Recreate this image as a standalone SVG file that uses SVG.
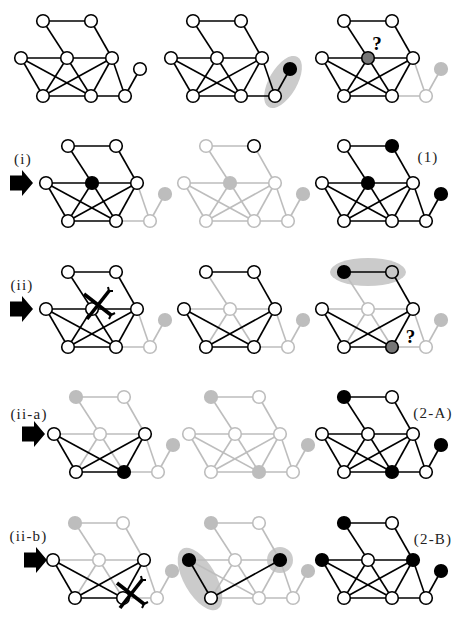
<svg xmlns="http://www.w3.org/2000/svg" xmlns:xlink="http://www.w3.org/1999/xlink" width="463" height="630" viewBox="0 0 463 630">
<style>
.k{stroke:#000;stroke-width:1.6;fill:none}
.g{stroke:#bdbdbd;stroke-width:1.6;fill:none}
.w{fill:#fff;stroke:#000;stroke-width:1.6}
.b{fill:#000;stroke:#000;stroke-width:1.6}
.gw{fill:#fff;stroke:#bdbdbd;stroke-width:1.6}
.gf{fill:#bdbdbd;stroke:#bdbdbd;stroke-width:1.6}
.dk{fill:#777;stroke:#000;stroke-width:1.6}
.lg{fill:#c8c8c8;stroke:#000;stroke-width:1.6}
.hl{fill:#cbcbcb;stroke:none}
.lbl{font-family:"Liberation Serif","DejaVu Serif",serif;font-size:15px;letter-spacing:1.2px;fill:#222;text-anchor:middle}
.q{font-family:"Liberation Serif","DejaVu Serif",serif;font-size:19px;font-weight:bold;fill:#000;text-anchor:middle}
.arr{fill:#000}
.x{stroke:#000;stroke-width:3.6;stroke-linecap:butt;fill:none}
</style>
<defs>
<line id="AB" x1="43" y1="21" x2="91" y2="21"/>
<line id="AD" x1="43" y1="21" x2="67" y2="58"/>
<line id="BE" x1="91" y1="21" x2="112" y2="58"/>
<line id="CD" x1="21" y1="58" x2="67" y2="58"/>
<line id="DE" x1="67" y1="58" x2="112" y2="58"/>
<line id="CF" x1="21" y1="58" x2="43" y2="96"/>
<line id="CG" x1="21" y1="58" x2="91" y2="96"/>
<line id="DF" x1="67" y1="58" x2="43" y2="96"/>
<line id="DG" x1="67" y1="58" x2="91" y2="96"/>
<line id="EF" x1="112" y1="58" x2="43" y2="96"/>
<line id="EG" x1="112" y1="58" x2="91" y2="96"/>
<line id="EH" x1="112" y1="58" x2="125" y2="96"/>
<line id="FG" x1="43" y1="96" x2="91" y2="96"/>
<line id="GH" x1="91" y1="96" x2="125" y2="96"/>
<line id="HI" x1="125" y1="96" x2="140" y2="69"/>
<path id="arrow" d="M-23,-7.5 L-11,-7.5 L-11,-13 L0,0 L-11,13 L-11,7.5 L-23,7.5 Z"/>
<g id="cross">
<path class="x" d="M-13,-11 L14,10"/>
<path class="x" d="M12,-14 L-10,14"/>
<path d="M14,10 L18,8 M14,10 L12,14 M12,-14 L16,-14 M12,-14 L11,-18" stroke="#000" stroke-width="2" fill="none"/>
</g>
</defs>

<!-- Row 1 -->
<g id="p1" transform="translate(0,0)">
<g id="p1-connectors"><use href="#AB" class="k"/><use href="#AD" class="k"/><use href="#BE" class="k"/><use href="#CD" class="k"/><use href="#DE" class="k"/><use href="#CF" class="k"/><use href="#CG" class="k"/><use href="#DF" class="k"/><use href="#DG" class="k"/><use href="#EF" class="k"/><use href="#EG" class="k"/><use href="#EH" class="k"/><use href="#FG" class="k"/><use href="#GH" class="k"/><use href="#HI" class="k"/></g>
<g id="p1-A"><circle class="w" cx="43" cy="21" r="6.3"/></g>
<g id="p1-B"><circle class="w" cx="91" cy="21" r="6.3"/></g>
<g id="p1-C"><circle class="w" cx="21" cy="58" r="6.3"/></g>
<g id="p1-D"><circle class="w" cx="67" cy="58" r="6.3"/></g>
<g id="p1-E"><circle class="w" cx="112" cy="58" r="6.3"/></g>
<g id="p1-F"><circle class="w" cx="43" cy="96" r="6.3"/></g>
<g id="p1-G"><circle class="w" cx="91" cy="96" r="6.3"/></g>
<g id="p1-H"><circle class="w" cx="125" cy="96" r="6.3"/></g>
<g id="p1-I"><circle class="w" cx="140" cy="69" r="6.3"/></g>
</g>

<g id="p2" transform="translate(150,0)">
<ellipse class="hl" cx="133" cy="82" rx="29" ry="14" transform="rotate(-60 133 82)"/>
<g id="p2-connectors"><use href="#AB" class="k"/><use href="#AD" class="k"/><use href="#BE" class="k"/><use href="#CD" class="k"/><use href="#DE" class="k"/><use href="#CF" class="k"/><use href="#CG" class="k"/><use href="#DF" class="k"/><use href="#DG" class="k"/><use href="#EF" class="k"/><use href="#EG" class="k"/><use href="#EH" class="k"/><use href="#FG" class="k"/><use href="#GH" class="k"/><use href="#HI" class="k"/></g>
<g id="p2-A"><circle class="w" cx="43" cy="21" r="6.3"/></g>
<g id="p2-B"><circle class="w" cx="91" cy="21" r="6.3"/></g>
<g id="p2-C"><circle class="w" cx="21" cy="58" r="6.3"/></g>
<g id="p2-D"><circle class="w" cx="67" cy="58" r="6.3"/></g>
<g id="p2-E"><circle class="w" cx="112" cy="58" r="6.3"/></g>
<g id="p2-F"><circle class="w" cx="43" cy="96" r="6.3"/></g>
<g id="p2-G"><circle class="w" cx="91" cy="96" r="6.3"/></g>
<g id="p2-H"><circle class="w" cx="125" cy="96" r="6.3"/></g>
<g id="p2-I"><circle class="b" cx="140" cy="69" r="6.3"/></g>
</g>

<g id="p3" transform="translate(301,0)">
<g id="p3-connectors"><use href="#EH" class="g"/><use href="#GH" class="g"/><use href="#HI" class="g"/><use href="#AB" class="k"/><use href="#AD" class="k"/><use href="#BE" class="k"/><use href="#CD" class="k"/><use href="#DE" class="k"/><use href="#CF" class="k"/><use href="#CG" class="k"/><use href="#DF" class="k"/><use href="#DG" class="k"/><use href="#EF" class="k"/><use href="#EG" class="k"/><use href="#FG" class="k"/></g>
<g id="p3-A"><circle class="w" cx="43" cy="21" r="6.3"/></g>
<g id="p3-B"><circle class="w" cx="91" cy="21" r="6.3"/></g>
<g id="p3-C"><circle class="w" cx="21" cy="58" r="6.3"/></g>
<g id="p3-D"><circle class="dk" cx="67" cy="58" r="6.3"/></g>
<g id="p3-E"><circle class="w" cx="112" cy="58" r="6.3"/></g>
<g id="p3-F"><circle class="w" cx="43" cy="96" r="6.3"/></g>
<g id="p3-G"><circle class="w" cx="91" cy="96" r="6.3"/></g>
<g id="p3-H"><circle class="gw" cx="125" cy="96" r="6.3"/></g>
<g id="p3-I"><circle class="gf" cx="140" cy="69" r="6.3"/></g>
<text class="q" x="76" y="50">?</text>
</g>

<!-- Row 2 -->
<text class="lbl" x="23" y="164">(i)</text>
<use href="#arrow" class="arr" x="33" y="183"/>
<g id="p4" transform="translate(25,125)">
<g id="p4-connectors"><use href="#EH" class="g"/><use href="#GH" class="g"/><use href="#HI" class="g"/><use href="#AB" class="k"/><use href="#AD" class="k"/><use href="#BE" class="k"/><use href="#CD" class="k"/><use href="#DE" class="k"/><use href="#CF" class="k"/><use href="#CG" class="k"/><use href="#DF" class="k"/><use href="#DG" class="k"/><use href="#EF" class="k"/><use href="#EG" class="k"/><use href="#FG" class="k"/></g>
<g id="p4-A"><circle class="w" cx="43" cy="21" r="6.3"/></g>
<g id="p4-B"><circle class="w" cx="91" cy="21" r="6.3"/></g>
<g id="p4-C"><circle class="w" cx="21" cy="58" r="6.3"/></g>
<g id="p4-D"><circle class="b" cx="67" cy="58" r="6.3"/></g>
<g id="p4-E"><circle class="w" cx="112" cy="58" r="6.3"/></g>
<g id="p4-F"><circle class="w" cx="43" cy="96" r="6.3"/></g>
<g id="p4-G"><circle class="w" cx="91" cy="96" r="6.3"/></g>
<g id="p4-H"><circle class="gw" cx="125" cy="96" r="6.3"/></g>
<g id="p4-I"><circle class="gf" cx="140" cy="69" r="6.3"/></g>
</g>

<g id="p5" transform="translate(163,125)">
<g id="p5-connectors"><use href="#AB" class="g"/><use href="#AD" class="g"/><use href="#BE" class="g"/><use href="#CD" class="g"/><use href="#DE" class="g"/><use href="#CF" class="g"/><use href="#CG" class="g"/><use href="#DF" class="g"/><use href="#DG" class="g"/><use href="#EF" class="g"/><use href="#EG" class="g"/><use href="#EH" class="g"/><use href="#FG" class="g"/><use href="#GH" class="g"/><use href="#HI" class="g"/></g>
<g id="p5-A"><circle class="gw" cx="43" cy="21" r="6.3"/></g>
<g id="p5-B"><circle class="w" cx="91" cy="21" r="6.3"/></g>
<g id="p5-C"><circle class="gw" cx="21" cy="58" r="6.3"/></g>
<g id="p5-D"><circle class="gf" cx="67" cy="58" r="6.3"/></g>
<g id="p5-E"><circle class="gw" cx="112" cy="58" r="6.3"/></g>
<g id="p5-F"><circle class="gw" cx="43" cy="96" r="6.3"/></g>
<g id="p5-G"><circle class="gw" cx="91" cy="96" r="6.3"/></g>
<g id="p5-H"><circle class="gw" cx="125" cy="96" r="6.3"/></g>
<g id="p5-I"><circle class="gf" cx="140" cy="69" r="6.3"/></g>
</g>

<g id="p6" transform="translate(301,125)">
<g id="p6-connectors"><use href="#AB" class="k"/><use href="#AD" class="k"/><use href="#BE" class="k"/><use href="#CD" class="k"/><use href="#DE" class="k"/><use href="#CF" class="k"/><use href="#CG" class="k"/><use href="#DF" class="k"/><use href="#DG" class="k"/><use href="#EF" class="k"/><use href="#EG" class="k"/><use href="#EH" class="k"/><use href="#FG" class="k"/><use href="#GH" class="k"/><use href="#HI" class="k"/></g>
<g id="p6-A"><circle class="w" cx="43" cy="21" r="6.3"/></g>
<g id="p6-B"><circle class="b" cx="91" cy="21" r="6.3"/></g>
<g id="p6-C"><circle class="w" cx="21" cy="58" r="6.3"/></g>
<g id="p6-D"><circle class="b" cx="67" cy="58" r="6.3"/></g>
<g id="p6-E"><circle class="w" cx="112" cy="58" r="6.3"/></g>
<g id="p6-F"><circle class="w" cx="43" cy="96" r="6.3"/></g>
<g id="p6-G"><circle class="w" cx="91" cy="96" r="6.3"/></g>
<g id="p6-H"><circle class="w" cx="125" cy="96" r="6.3"/></g>
<g id="p6-I"><circle class="b" cx="140" cy="69" r="6.3"/></g>
</g>
<text class="lbl" x="428" y="162">(1)</text>

<!-- Row 3 -->
<text class="lbl" x="22" y="290">(ii)</text>
<use href="#arrow" class="arr" x="33" y="309"/>
<g id="p7" transform="translate(25,251)">
<g id="p7-connectors"><use href="#EH" class="g"/><use href="#GH" class="g"/><use href="#HI" class="g"/><use href="#AB" class="k"/><use href="#AD" class="k"/><use href="#BE" class="k"/><use href="#CD" class="k"/><use href="#DE" class="k"/><use href="#CF" class="k"/><use href="#CG" class="k"/><use href="#DF" class="k"/><use href="#DG" class="k"/><use href="#EF" class="k"/><use href="#EG" class="k"/><use href="#FG" class="k"/></g>
<g id="p7-A"><circle class="w" cx="43" cy="21" r="6.3"/></g>
<g id="p7-B"><circle class="w" cx="91" cy="21" r="6.3"/></g>
<g id="p7-C"><circle class="w" cx="21" cy="58" r="6.3"/></g>
<g id="p7-D"><circle class="w" cx="67" cy="58" r="6.3"/></g>
<g id="p7-E"><circle class="w" cx="112" cy="58" r="6.3"/></g>
<g id="p7-F"><circle class="w" cx="43" cy="96" r="6.3"/></g>
<g id="p7-G"><circle class="w" cx="91" cy="96" r="6.3"/></g>
<g id="p7-H"><circle class="gw" cx="125" cy="96" r="6.3"/></g>
<g id="p7-I"><circle class="gf" cx="140" cy="69" r="6.3"/></g>
<use href="#cross" x="72" y="54"/>
</g>

<g id="p8" transform="translate(163,251)">
<g id="p8-connectors"><use href="#AD" class="g"/><use href="#CD" class="g"/><use href="#DE" class="g"/><use href="#DF" class="g"/><use href="#DG" class="g"/><use href="#EH" class="g"/><use href="#GH" class="g"/><use href="#HI" class="g"/><use href="#AB" class="k"/><use href="#BE" class="k"/><use href="#CF" class="k"/><use href="#CG" class="k"/><use href="#EF" class="k"/><use href="#EG" class="k"/><use href="#FG" class="k"/></g>
<g id="p8-A"><circle class="w" cx="43" cy="21" r="6.3"/></g>
<g id="p8-B"><circle class="w" cx="91" cy="21" r="6.3"/></g>
<g id="p8-C"><circle class="w" cx="21" cy="58" r="6.3"/></g>
<g id="p8-D"><circle class="gw" cx="67" cy="58" r="6.3"/></g>
<g id="p8-E"><circle class="w" cx="112" cy="58" r="6.3"/></g>
<g id="p8-F"><circle class="w" cx="43" cy="96" r="6.3"/></g>
<g id="p8-G"><circle class="w" cx="91" cy="96" r="6.3"/></g>
<g id="p8-H"><circle class="gw" cx="125" cy="96" r="6.3"/></g>
<g id="p8-I"><circle class="gf" cx="140" cy="69" r="6.3"/></g>
</g>

<g id="p9" transform="translate(301,251)">
<ellipse class="hl" cx="67" cy="21" rx="38" ry="14"/>
<g id="p9-connectors"><use href="#AD" class="g"/><use href="#CD" class="g"/><use href="#DE" class="g"/><use href="#DF" class="g"/><use href="#DG" class="g"/><use href="#EH" class="g"/><use href="#GH" class="g"/><use href="#HI" class="g"/><use href="#AB" class="k"/><use href="#BE" class="k"/><use href="#CF" class="k"/><use href="#CG" class="k"/><use href="#EF" class="k"/><use href="#EG" class="k"/><use href="#FG" class="k"/></g>
<g id="p9-A"><circle class="b" cx="43" cy="21" r="6.3"/></g>
<g id="p9-B"><circle class="lg" cx="91" cy="21" r="6.3"/></g>
<g id="p9-C"><circle class="w" cx="21" cy="58" r="6.3"/></g>
<g id="p9-D"><circle class="gw" cx="67" cy="58" r="6.3"/></g>
<g id="p9-E"><circle class="w" cx="112" cy="58" r="6.3"/></g>
<g id="p9-F"><circle class="w" cx="43" cy="96" r="6.3"/></g>
<g id="p9-G"><circle class="dk" cx="91" cy="96" r="6.3"/></g>
<g id="p9-H"><circle class="gw" cx="125" cy="96" r="6.3"/></g>
<g id="p9-I"><circle class="gf" cx="140" cy="69" r="6.3"/></g>
<text class="q" x="109.5" y="92">?</text>
</g>

<!-- Row 4 -->
<text class="lbl" x="29" y="419">(ii-a)</text>
<use href="#arrow" class="arr" x="45" y="434"/>
<g id="p10" transform="translate(33,376)">
<g id="p10-connectors"><use href="#AB" class="g"/><use href="#AD" class="g"/><use href="#BE" class="g"/><use href="#CD" class="g"/><use href="#DE" class="g"/><use href="#DF" class="g"/><use href="#DG" class="g"/><use href="#EH" class="g"/><use href="#GH" class="g"/><use href="#HI" class="g"/><use href="#CF" class="k"/><use href="#CG" class="k"/><use href="#EF" class="k"/><use href="#EG" class="k"/><use href="#FG" class="k"/></g>
<g id="p10-A"><circle class="gf" cx="43" cy="21" r="6.3"/></g>
<g id="p10-B"><circle class="gw" cx="91" cy="21" r="6.3"/></g>
<g id="p10-C"><circle class="w" cx="21" cy="58" r="6.3"/></g>
<g id="p10-D"><circle class="gw" cx="67" cy="58" r="6.3"/></g>
<g id="p10-E"><circle class="w" cx="112" cy="58" r="6.3"/></g>
<g id="p10-F"><circle class="w" cx="43" cy="96" r="6.3"/></g>
<g id="p10-G"><circle class="b" cx="91" cy="96" r="6.3"/></g>
<g id="p10-H"><circle class="gw" cx="125" cy="96" r="6.3"/></g>
<g id="p10-I"><circle class="gf" cx="140" cy="69" r="6.3"/></g>
</g>

<g id="p11" transform="translate(168,376)">
<g id="p11-connectors"><use href="#AB" class="g"/><use href="#AD" class="g"/><use href="#BE" class="g"/><use href="#CD" class="g"/><use href="#DE" class="g"/><use href="#CF" class="g"/><use href="#CG" class="g"/><use href="#DF" class="g"/><use href="#DG" class="g"/><use href="#EF" class="g"/><use href="#EG" class="g"/><use href="#EH" class="g"/><use href="#FG" class="g"/><use href="#GH" class="g"/><use href="#HI" class="g"/></g>
<g id="p11-A"><circle class="gf" cx="43" cy="21" r="6.3"/></g>
<g id="p11-B"><circle class="gw" cx="91" cy="21" r="6.3"/></g>
<g id="p11-C"><circle class="gw" cx="21" cy="58" r="6.3"/></g>
<g id="p11-D"><circle class="gw" cx="67" cy="58" r="6.3"/></g>
<g id="p11-E"><circle class="gw" cx="112" cy="58" r="6.3"/></g>
<g id="p11-F"><circle class="gw" cx="43" cy="96" r="6.3"/></g>
<g id="p11-G"><circle class="gf" cx="91" cy="96" r="6.3"/></g>
<g id="p11-H"><circle class="gw" cx="125" cy="96" r="6.3"/></g>
<g id="p11-I"><circle class="gf" cx="140" cy="69" r="6.3"/></g>
</g>

<g id="p12" transform="translate(301,376)">
<g id="p12-connectors"><use href="#AB" class="k"/><use href="#AD" class="k"/><use href="#BE" class="k"/><use href="#CD" class="k"/><use href="#DE" class="k"/><use href="#CF" class="k"/><use href="#CG" class="k"/><use href="#DF" class="k"/><use href="#DG" class="k"/><use href="#EF" class="k"/><use href="#EG" class="k"/><use href="#EH" class="k"/><use href="#FG" class="k"/><use href="#GH" class="k"/><use href="#HI" class="k"/></g>
<g id="p12-A"><circle class="b" cx="43" cy="21" r="6.3"/></g>
<g id="p12-B"><circle class="w" cx="91" cy="21" r="6.3"/></g>
<g id="p12-C"><circle class="w" cx="21" cy="58" r="6.3"/></g>
<g id="p12-D"><circle class="w" cx="67" cy="58" r="6.3"/></g>
<g id="p12-E"><circle class="w" cx="112" cy="58" r="6.3"/></g>
<g id="p12-F"><circle class="w" cx="43" cy="96" r="6.3"/></g>
<g id="p12-G"><circle class="b" cx="91" cy="96" r="6.3"/></g>
<g id="p12-H"><circle class="w" cx="125" cy="96" r="6.3"/></g>
<g id="p12-I"><circle class="b" cx="140" cy="69" r="6.3"/></g>
</g>
<text class="lbl" x="433" y="418">(2-A)</text>

<!-- Row 5 -->
<text class="lbl" x="28.5" y="541">(ii-b)</text>
<use href="#arrow" class="arr" x="47" y="560"/>
<g id="p13" transform="translate(32,502)">
<g id="p13-connectors"><use href="#AB" class="g"/><use href="#AD" class="g"/><use href="#BE" class="g"/><use href="#CD" class="g"/><use href="#DE" class="g"/><use href="#DF" class="g"/><use href="#DG" class="g"/><use href="#EH" class="g"/><use href="#GH" class="g"/><use href="#HI" class="g"/><use href="#CF" class="k"/><use href="#CG" class="k"/><use href="#EF" class="k"/><use href="#EG" class="k"/><use href="#FG" class="k"/></g>
<g id="p13-A"><circle class="gf" cx="43" cy="21" r="6.3"/></g>
<g id="p13-B"><circle class="gw" cx="91" cy="21" r="6.3"/></g>
<g id="p13-C"><circle class="w" cx="21" cy="58" r="6.3"/></g>
<g id="p13-D"><circle class="gw" cx="67" cy="58" r="6.3"/></g>
<g id="p13-E"><circle class="w" cx="112" cy="58" r="6.3"/></g>
<g id="p13-F"><circle class="w" cx="43" cy="96" r="6.3"/></g>
<g id="p13-G"><circle class="w" cx="91" cy="96" r="6.3"/></g>
<g id="p13-H"><circle class="gw" cx="125" cy="96" r="6.3"/></g>
<g id="p13-I"><circle class="gf" cx="140" cy="69" r="6.3"/></g>
<use href="#cross" x="98" y="92"/>
</g>

<g id="p14" transform="translate(168,502)">
<ellipse class="hl" cx="32" cy="77" rx="35" ry="16" transform="rotate(60 32 77)"/>
<circle class="hl" cx="112" cy="58" r="13"/>
<g id="p14-connectors"><use href="#AB" class="g"/><use href="#AD" class="g"/><use href="#BE" class="g"/><use href="#CD" class="g"/><use href="#DE" class="g"/><use href="#CG" class="g"/><use href="#DF" class="g"/><use href="#DG" class="g"/><use href="#EG" class="g"/><use href="#EH" class="g"/><use href="#FG" class="g"/><use href="#GH" class="g"/><use href="#HI" class="g"/><use href="#CF" class="k"/><use href="#EF" class="k"/></g>
<g id="p14-A"><circle class="gf" cx="43" cy="21" r="6.3"/></g>
<g id="p14-B"><circle class="gw" cx="91" cy="21" r="6.3"/></g>
<g id="p14-C"><circle class="b" cx="21" cy="58" r="6.3"/></g>
<g id="p14-D"><circle class="gw" cx="67" cy="58" r="6.3"/></g>
<g id="p14-E"><circle class="b" cx="112" cy="58" r="6.3"/></g>
<g id="p14-F"><circle class="w" cx="43" cy="96" r="6.3"/></g>
<g id="p14-G"><circle class="gw" cx="91" cy="96" r="6.3"/></g>
<g id="p14-H"><circle class="gw" cx="125" cy="96" r="6.3"/></g>
<g id="p14-I"><circle class="gf" cx="140" cy="69" r="6.3"/></g>
</g>

<g id="p15" transform="translate(301,502)">
<g id="p15-connectors"><use href="#AB" class="k"/><use href="#AD" class="k"/><use href="#BE" class="k"/><use href="#CD" class="k"/><use href="#DE" class="k"/><use href="#CF" class="k"/><use href="#CG" class="k"/><use href="#DF" class="k"/><use href="#DG" class="k"/><use href="#EF" class="k"/><use href="#EG" class="k"/><use href="#EH" class="k"/><use href="#FG" class="k"/><use href="#GH" class="k"/><use href="#HI" class="k"/></g>
<g id="p15-A"><circle class="b" cx="43" cy="21" r="6.3"/></g>
<g id="p15-B"><circle class="w" cx="91" cy="21" r="6.3"/></g>
<g id="p15-C"><circle class="b" cx="21" cy="58" r="6.3"/></g>
<g id="p15-D"><circle class="w" cx="67" cy="58" r="6.3"/></g>
<g id="p15-E"><circle class="b" cx="112" cy="58" r="6.3"/></g>
<g id="p15-F"><circle class="w" cx="43" cy="96" r="6.3"/></g>
<g id="p15-G"><circle class="w" cx="91" cy="96" r="6.3"/></g>
<g id="p15-H"><circle class="w" cx="125" cy="96" r="6.3"/></g>
<g id="p15-I"><circle class="b" cx="140" cy="69" r="6.3"/></g>
</g>
<text class="lbl" x="433" y="544">(2-B)</text>
</svg>
